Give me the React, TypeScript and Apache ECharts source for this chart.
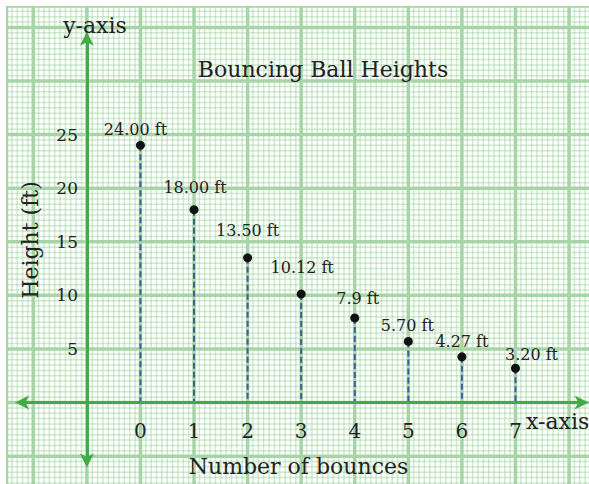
import { useEffect, useRef } from 'react';
import * as echarts from 'echarts';

// ---- data ----
const bounces = [0, 1, 2, 3, 4, 5, 6, 7];
const heights = [24, 18, 13.5, 10.12, 7.9, 5.7, 4.27, 3.2];
const heightLabels = ['24.00 ft', '18.00 ft', '13.50 ft', '10.12 ft', '7.9 ft', '5.70 ft', '4.27 ft', '3.20 ft'];
const xTickValues = [0, 1, 2, 3, 4, 5, 6, 7];
const yTickValues = [5, 10, 15, 20, 25];

// ---- layout constants ----
const labelOffsets = [[-5, -16], [1, -22], [0, -27], [1, -27], [3, -19], [-1, -16], [0, -15], [16, -14]];
const X_MIN = -2.5;
const X_MAX = 8.372;
const Y_MIN = -7.6;
const Y_MAX = 37;
const Y_AXIS_AT = -1;
const FONT = 'DejaVu Serif';
const TEXT = '#222';
const AXIS_GREEN = '#41ab48';

// graph-paper lines (decoration)
const vLines: number[][] = [];
for (let i = 0; ; i++) {
  const v = (i - 25) / 10;
  if (v > X_MAX) break;
  vLines.push([v, i === 0 ? 2 : i % 10 === 5 ? 1 : 0]);
}
const hLines: number[][] = [];
for (let j = 0; ; j++) {
  const v = (j - 15) / 2;
  if (v > Y_MAX) break;
  hLines.push([v, j % 10 === 5 ? 1 : 0]);
}
hLines.push([Y_MAX, 2]);

function paperStyle(kind: number) {
  if (kind === 0) return { stroke: 'rgba(160,214,160,0.5)', lineWidth: 1.5 };
  return { stroke: '#a8d5a8', lineWidth: 3.5 };
}

const ARROW = 'path://M5,0 L10,12 L5,9 L0,12 Z';

export default function App() {
  const ref = useRef<HTMLDivElement>(null);
  useEffect(() => {
    if (!ref.current) return;
    const chart = echarts.init(ref.current, null, { renderer: 'svg' });
    const textStyle = { fontSize: 22, fontFamily: FONT, fill: TEXT, verticalAlign: 'middle' };
    chart.setOption({
      animation: false,
      backgroundColor: '#fff',
      title: {
        text: 'Bouncing Ball Heights',
        left: 323,
        top: 58.5,
        textAlign: 'center',
        padding: 0,
        z: 20,
        textStyle: { fontSize: 22, fontWeight: 'normal', fontFamily: FONT, color: TEXT },
      },
      grid: { left: 6.5, right: 0, top: 6, bottom: 0, containLabel: false, outerBoundsMode: 'none' },
      xAxis: {
        type: 'value',
        min: X_MIN,
        max: X_MAX,
        position: 'bottom',
        offset: -81,
        z: 20,
        axisLine: { show: false, onZero: false },
        axisTick: { show: false },
        splitLine: { show: false },
        axisLabel: { customValues: xTickValues, fontSize: 20, color: TEXT, fontFamily: FONT, margin: 18 },
      },
      yAxis: {
        type: 'value',
        min: Y_MIN,
        max: Y_MAX,
        offset: -80.5,
        z: 20,
        axisLine: { show: false, onZero: false },
        axisTick: { show: false },
        splitLine: { show: false },
        axisLabel: { customValues: yTickValues, fontSize: 17, color: TEXT, fontFamily: FONT, margin: 9 },
      },
      graphic: [
        { type: 'text', z: 100, x: 95, y: 25.5, style: { ...textStyle, text: 'y-axis', align: 'center' } },
        { type: 'text', z: 100, x: 526, y: 421.5, style: { ...textStyle, text: 'x-axis', align: 'left' } },
        { type: 'text', z: 100, x: 298.5, y: 466.5, style: { ...textStyle, text: 'Number of bounces', align: 'center' } },
        { type: 'text', z: 100, x: 30.2, y: 240, rotation: Math.PI / 2, style: { ...textStyle, text: 'Height (ft)', align: 'center' } },
      ],
      series: [
        {
          type: 'custom',
          silent: true,
          z: 1,
          clip: true,
          data: vLines,
          renderItem: (_p: any, api: any) => {
            const v = api.value(0);
            const a = api.coord([v, Y_MIN]);
            const b = api.coord([v, Y_MAX]);
            return { type: 'line', shape: { x1: a[0], y1: a[1], x2: b[0], y2: b[1] }, style: paperStyle(api.value(1)) };
          },
        },
        {
          type: 'custom',
          silent: true,
          z: 1,
          clip: true,
          data: hLines,
          encode: { x: 1, y: 0 },
          renderItem: (_p: any, api: any) => {
            const v = api.value(0);
            const a = api.coord([X_MIN, v]);
            const b = api.coord([X_MAX, v]);
            return { type: 'line', shape: { x1: a[0], y1: a[1], x2: b[0], y2: b[1] }, style: paperStyle(api.value(1)) };
          },
        },
        {
          type: 'custom',
          silent: true,
          z: 3,
          data: bounces.map((b, i) => [b, heights[i]]),
          renderItem: (_p: any, api: any) => {
            const top = api.coord([api.value(0), api.value(1)]);
            const base = api.coord([api.value(0), 0]);
            return {
              type: 'line',
              shape: { x1: top[0], y1: top[1], x2: base[0], y2: base[1] },
              style: { stroke: '#3d5c9e', lineWidth: 2, lineDash: [6, 3] },
            };
          },
        },
        {
          type: 'scatter',
          z: 4,
          symbolSize: 9,
          itemStyle: { color: '#111', opacity: 1 },
          data: bounces.map((b, i) => ({ value: [b, heights[i]], label: { offset: labelOffsets[i] } })),
          label: {
            show: true,
            position: 'inside',
            formatter: (p: any) => heightLabels[p.dataIndex],
            fontSize: 16,
            fontFamily: FONT,
            color: TEXT,
          },
          markLine: {
            silent: true,
            symbol: [ARROW, ARROW],
            symbolSize: 14,
            label: { show: false },
            lineStyle: { color: AXIS_GREEN, width: 3, type: 'solid' },
            itemStyle: { color: AXIS_GREEN },
            emphasis: { disabled: true },
            data: [
              [{ coord: [-2.21, 0] }, { coord: [8.235, 0] }],
              [{ coord: [Y_AXIS_AT, -5.4] }, { coord: [Y_AXIS_AT, 33.95] }],
            ],
          },
        },
      ],
    });
    return () => chart.dispose();
  }, []);
  return <div ref={ref} style={{ position: 'absolute', left: 0, top: 0, width: 589, height: 484 }} />;
}
